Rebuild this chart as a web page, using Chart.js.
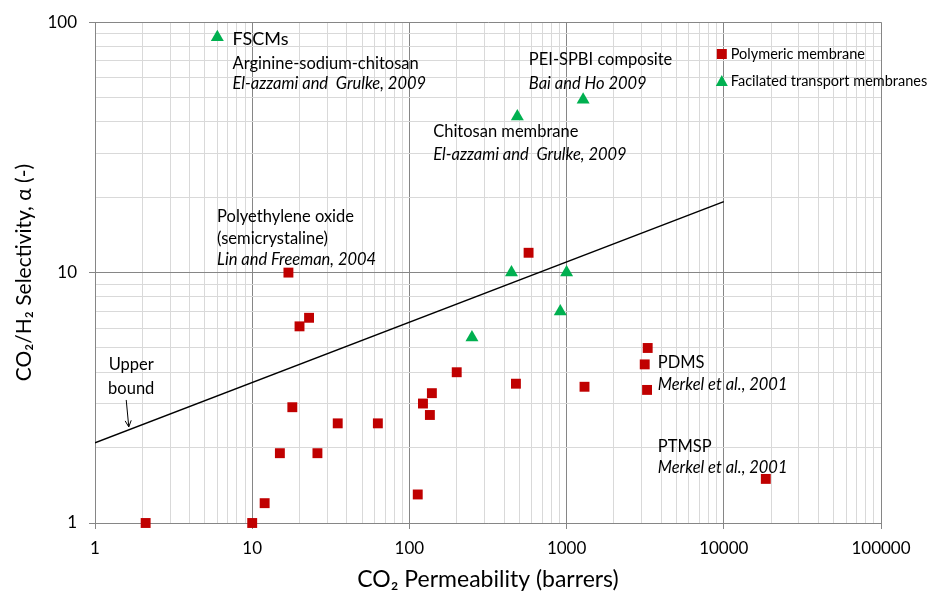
<!DOCTYPE html>
<html>
<head>
<meta charset="utf-8">
<script src="https://cdn.jsdelivr.net/npm/chart.js@4/dist/chart.umd.min.js"></script>
<style>
  html, body { margin: 0; padding: 0; background: #fff; }
  #wrap { width: 929px; height: 601px; position: relative; }
</style>
</head>
<body>
<div id="wrap"><canvas id="selectivity_chart"></canvas></div>
<script>
// values (CO2 permeability in barrers, CO2/H2 selectivity)
const polymeric_x = [2.1, 10, 12, 15, 18, 26, 35, 63, 113, 122, 135, 139, 17, 20, 23, 200, 476, 573, 1300, 3140, 3250, 3280, 18500];
const polymeric_y = [1.0, 1.0, 1.2, 1.9, 2.9, 1.9, 2.5, 2.5, 1.3, 3.0, 2.7, 3.3, 10, 6.1, 6.6, 4.0, 3.6, 12, 3.5, 4.3, 3.4, 5.0, 1.5];

const facilitated_x = [6, 250, 446, 486, 912, 1000, 1274];
const facilitated_y = [87, 5.5, 10, 42, 7.0, 10, 49];

const upper_bound_x = [1, 10000];
const upper_bound_y = [2.09, 19.2];

const x_major_ticks = [1, 10, 100, 1000, 10000, 100000];
const y_major_ticks = [1, 10, 100];

const series_labels = ['Polymeric membrane', 'Facilated transport membranes', 'Upper bound'];

// text notes placed at data coordinates (x = left edge, y = middle of line)
const notes = [
    { text: 'FSCMs', x: 7.5, y: 85.7, size: 18, italic: false },
    { text: 'Arginine-sodium-chitosan', x: 7.5, y: 68.6, size: 16.5, italic: false },
    { text: 'El-azzami and  Grulke, 2009', x: 7.5, y: 56.8, size: 16.5, italic: true },
    { text: 'PEI-SPBI composite', x: 575, y: 70.7, size: 16.5, italic: false },
    { text: 'Bai and Ho 2009', x: 575, y: 57.0, size: 16.5, italic: true },
    { text: 'Chitosan membrane', x: 141.6, y: 36.4, size: 16.5, italic: false },
    { text: 'El-azzami and  Grulke, 2009', x: 141.6, y: 29.6, size: 16.5, italic: true },
    { text: 'Polyethylene oxide', x: 5.98, y: 16.7, size: 16.5, italic: false },
    { text: '(semicrystaline)', x: 5.98, y: 13.7, size: 16.5, italic: false },
    { text: 'Lin and Freeman, 2004', x: 5.98, y: 11.3, size: 16.5, italic: true },
    { text: 'PDMS', x: 3800, y: 4.35, size: 16.5, italic: false },
    { text: 'Merkel et al., 2001', x: 3800, y: 3.57, size: 16.5, italic: true },
    { text: 'PTMSP', x: 3800, y: 2.02, size: 16.5, italic: false },
    { text: 'Merkel et al., 2001', x: 3800, y: 1.67, size: 16.5, italic: true },
    { text: 'Upper', x: 1.70, y: 4.29, size: 16.5, italic: false, center: true },
    { text: 'bound', x: 1.70, y: 3.45, size: 16.5, italic: false, center: true },
];
const arrow_from = [1.58, 3.10];
const arrow_to = [1.64, 2.42];

const FONT = 'Lato, "Open Sans", sans-serif';
const RED = '#c00000';
const GREEN = '#00b050';
const MAJOR_GRID = '#868686';
const MINOR_GRID = '#d9d9d9';

function to_points(xs, ys) {
    return xs.map((x, i) => ({ x: x, y: ys[i] }));
}

function all_ticks(majors) {
    let ticks = [];
    for (let i = 0; i < majors.length; i++) {
        if (i == majors.length - 1) {
            ticks.push(majors[i]);
            break;
        }
        for (let k = 1; k <= 9; k++) ticks.push(majors[i] * k);
    }
    return ticks;
}

function is_major(value, majors) {
    return majors.some(m => Math.abs(m - value) < 1e-9 * m);
}

const notes_plugin = {
    id: 'notes',
    afterDatasetsDraw(chart) {
        const ctx = chart.ctx;
        const xs = chart.scales.x;
        const ys = chart.scales.y;
        ctx.save();
        ctx.fillStyle = '#000';
        ctx.textBaseline = 'middle';
        notes.forEach(n => {
            ctx.font = (n.italic ? 'italic ' : '') + n.size + 'px ' + FONT;
            ctx.textAlign = n.center ? 'center' : 'left';
            ctx.fillText(n.text, xs.getPixelForValue(n.x), ys.getPixelForValue(n.y));
        });

        // arrow to the upper bound line
        let x1 = xs.getPixelForValue(arrow_from[0]), y1 = ys.getPixelForValue(arrow_from[1]);
        let x2 = xs.getPixelForValue(arrow_to[0]), y2 = ys.getPixelForValue(arrow_to[1]);
        let ang = Math.atan2(y2 - y1, x2 - x1);
        ctx.strokeStyle = '#000';
        ctx.lineWidth = 1;
        ctx.beginPath();
        ctx.moveTo(x1, y1);
        ctx.lineTo(x2, y2);
        ctx.moveTo(x2 - 7 * Math.cos(ang - 0.45), y2 - 7 * Math.sin(ang - 0.45));
        ctx.lineTo(x2, y2);
        ctx.lineTo(x2 - 7 * Math.cos(ang + 0.45), y2 - 7 * Math.sin(ang + 0.45));
        ctx.stroke();

        // legend inside the plot, top right
        const lx = xs.getPixelForValue(10000) - 2;
        const rows = [
            { label: series_labels[0], color: RED, style: 'rect', y: 54 },
            { label: series_labels[1], color: GREEN, style: 'triangle', y: 81 },
        ];
        ctx.font = '14.5px ' + FONT;
        ctx.textAlign = 'left';
        rows.forEach(r => {
            ctx.fillStyle = r.color;
            if (r.style == 'rect') {
                ctx.fillRect(lx - 5, r.y - 5, 10, 10);
            } else {
                ctx.beginPath();
                ctx.moveTo(lx, r.y - 6);
                ctx.lineTo(lx + 6, r.y + 5);
                ctx.lineTo(lx - 6, r.y + 5);
                ctx.closePath();
                ctx.fill();
            }
            ctx.fillStyle = '#000';
            ctx.fillText(r.label, lx + 9, r.y);
        });
        ctx.restore();
    }
};

const x_ticks = all_ticks(x_major_ticks);
const y_ticks = all_ticks(y_major_ticks);

const chart_config = {
    type: 'scatter',
    data: {
        datasets: [{
            label: series_labels[0],
            data: to_points(polymeric_x, polymeric_y),
            pointStyle: 'rect',
            pointRadius: 7,
            pointHoverRadius: 7,
            backgroundColor: RED,
            borderColor: RED,
            borderWidth: 0,
            clip: false,
            order: 1,
        }, {
            label: series_labels[1],
            data: to_points(facilitated_x, facilitated_y),
            pointStyle: 'triangle',
            pointRadius: 7.5,
            pointHoverRadius: 7.5,
            backgroundColor: GREEN,
            borderColor: GREEN,
            borderWidth: 0,
            clip: false,
            order: 1,
        }, {
            label: series_labels[2],
            data: to_points(upper_bound_x, upper_bound_y),
            showLine: true,
            pointRadius: 0,
            borderColor: '#000',
            borderWidth: 1.5,
            order: 2,
        }]
    },
    options: {
        responsive: true,
        maintainAspectRatio: false,
        animation: false,
        layout: {
            padding: { top: 18, right: 48, bottom: 0, left: 0 }
        },
        plugins: {
            legend: { display: false },
            tooltip: { enabled: false },
        },
        scales: {
            x: {
                type: 'logarithmic',
                min: 1,
                max: 100000,
                afterBuildTicks: (scale) => { scale.ticks = x_ticks.map(v => ({ value: v })); },
                afterFit: (scale) => { scale.height = 78; },
                ticks: {
                    autoSkip: false,
                    maxRotation: 0,
                    padding: 9,
                    color: '#000',
                    font: { family: FONT, size: 17 },
                    callback: (value) => is_major(value, x_major_ticks) ? String(value) : '',
                },
                grid: {
                    color: (c) => is_major(c.tick.value, x_major_ticks) ? MAJOR_GRID : MINOR_GRID,
                    tickColor: (c) => is_major(c.tick.value, x_major_ticks) ? MAJOR_GRID : 'rgba(0,0,0,0)',
                    tickLength: 6,
                    lineWidth: 1,
                },
                border: { color: MAJOR_GRID },
                title: {
                    display: true,
                    text: 'CO\u2082 Permeability (barrers)',
                    color: '#000',
                    font: { family: FONT, size: 23 },
                    padding: { top: 0, bottom: 8 },
                },
            },
            y: {
                type: 'logarithmic',
                min: 1,
                max: 100,
                afterBuildTicks: (scale) => { scale.ticks = y_ticks.map(v => ({ value: v })); },
                afterFit: (scale) => { scale.width = 95; },
                ticks: {
                    autoSkip: false,
                    padding: 12,
                    color: '#000',
                    font: { family: FONT, size: 17 },
                    callback: (value) => is_major(value, y_major_ticks) ? String(value) : '',
                },
                grid: {
                    color: (c) => is_major(c.tick.value, y_major_ticks) ? MAJOR_GRID : MINOR_GRID,
                    tickColor: (c) => is_major(c.tick.value, y_major_ticks) ? MAJOR_GRID : 'rgba(0,0,0,0)',
                    tickLength: 6,
                    lineWidth: 1,
                },
                border: { color: MAJOR_GRID },
                title: {
                    display: true,
                    text: 'CO\u2082/H\u2082 Selectivity, \u03b1 (-)',
                    color: '#000',
                    font: { family: FONT, size: 21 },
                    padding: { top: 12, bottom: 0 },
                },
            }
        }
    },
    plugins: [notes_plugin]
};

let selectivity_chart = new Chart(
    document.getElementById('selectivity_chart'),
    chart_config
);
</script>
</body>
</html>
